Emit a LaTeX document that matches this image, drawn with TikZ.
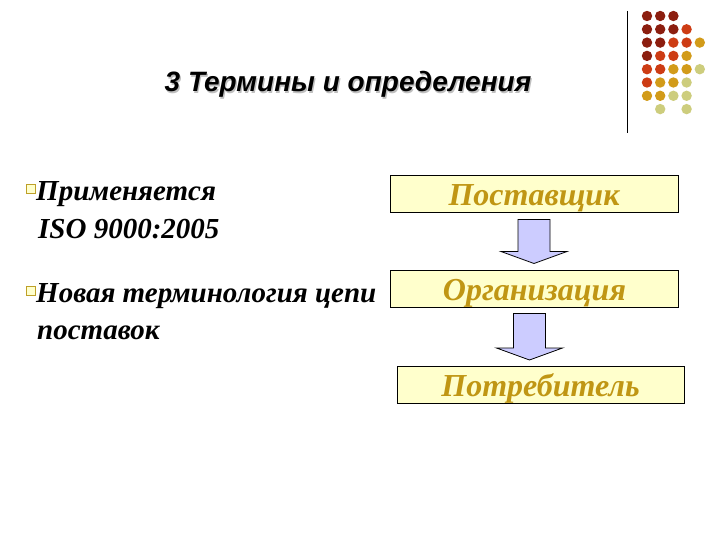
\documentclass[tikz,border=0pt]{standalone}
\usepackage{fontspec}
\setmainfont{Liberation Serif}
\newfontfamily\headfont{Liberation Sans}
\usetikzlibrary{calc}

\definecolor{boxfill}{RGB}{255,255,204}
\definecolor{boxtext}{RGB}{192,150,20}
\definecolor{arrowfill}{RGB}{204,204,255}
\definecolor{bulletline}{RGB}{190,160,40}
\definecolor{dotA}{RGB}{140,30,15}
\definecolor{dotB}{RGB}{205,60,20}
\definecolor{dotC}{RGB}{210,155,25}
\definecolor{dotD}{RGB}{205,205,125}

\tikzset{
  chainbox/.style={draw=black, line width=1pt, fill=boxfill, inner sep=0pt,
    minimum width=288pt, minimum height=37pt, text=boxtext,
    text height=30pt, text depth=7pt,
    font=\fontsize{32}{32}\selectfont\bfseries\itshape},
  itemtext/.style={anchor=base west, inner sep=0pt,
    font=\fontsize{29}{29}\selectfont\bfseries\itshape},
  itembullet/.style={draw=bulletline, fill=boxfill, line width=0.9pt,
    minimum size=8.5pt, inner sep=0pt},
  flowarrow/.style={draw=black, line width=0.8pt, fill=arrowfill},
  headline/.style={anchor=base, font=\fontsize{28}{28}\selectfont\headfont\bfseries\itshape},
}

% block arrow from the bottom of #1 down to the top of #2, shifted by #3
\newcommand\flowdown[3]{%
  \draw[flowarrow] let \p1=(#1.south), \p2=(#2.north) in
    (\x1+#3-16pt,\y1-6pt) -- (\x1+#3+16pt,\y1-6pt) -- (\x1+#3+16pt,\y2+18pt)
    -- (\x1+#3+33pt,\y2+18pt) -- (\x1+#3,\y2+6pt) -- (\x1+#3-33pt,\y2+18pt)
    -- (\x1+#3-16pt,\y2+18pt) -- cycle;}

\begin{document}
\begin{tikzpicture}[x=1pt,y=-1pt]
  \useasboundingbox[fill=white] (0,0) rectangle (720,540);

  % decoration top right
  \draw[line width=1pt] (627,11) -- (627,133);
  \foreach \i/\j/\c in {0/0/dotA,1/0/dotA,2/0/dotA,
      0/1/dotA,1/1/dotA,2/1/dotA,3/1/dotB,
      0/2/dotA,1/2/dotA,2/2/dotB,3/2/dotB,4/2/dotC,
      0/3/dotA,1/3/dotB,2/3/dotB,3/3/dotC,
      0/4/dotB,1/4/dotB,2/4/dotC,3/4/dotC,4/4/dotD,
      0/5/dotB,1/5/dotC,2/5/dotC,3/5/dotD,
      0/6/dotC,1/6/dotC,2/6/dotD,3/6/dotD,
      1/7/dotD,3/7/dotD}
    \fill[\c] (647+13.2*\i,16+13.3*\j) circle (5.2);

  % title
  \node[headline, text=black!25] (titleshadow) at (349.2,93.2) {3 Термины и определения};
  \node[headline] (title) at (348,92) {3 Термины и определения};

  % left column
  \node[itembullet] (bulletA) at (31,189) {};
  \node[itemtext] (itemA) at (36,201) {Применяется};
  \node[itemtext] (itemAb) at (38,238) {ISO 9000:2005};
  \node[itembullet] (bulletB) at (31,291) {};
  \node[itemtext] (itemB) at (36,302) {Новая терминология цепи};
  \node[itemtext] (itemBb) at (37,339) {поставок};

  % supply chain
  \node[chainbox] (supplier) at (534,194.5) {Поставщик};
  \node[chainbox] (company) at (534.5,288.5) {Организация};
  \node[chainbox, minimum width=287pt, minimum height=36pt] (customer) at (540.5,385) {Потребитель};
  \flowdown{supplier}{company}{0pt}
  \flowdown{company}{customer}{-5pt}
\end{tikzpicture}
\end{document}
